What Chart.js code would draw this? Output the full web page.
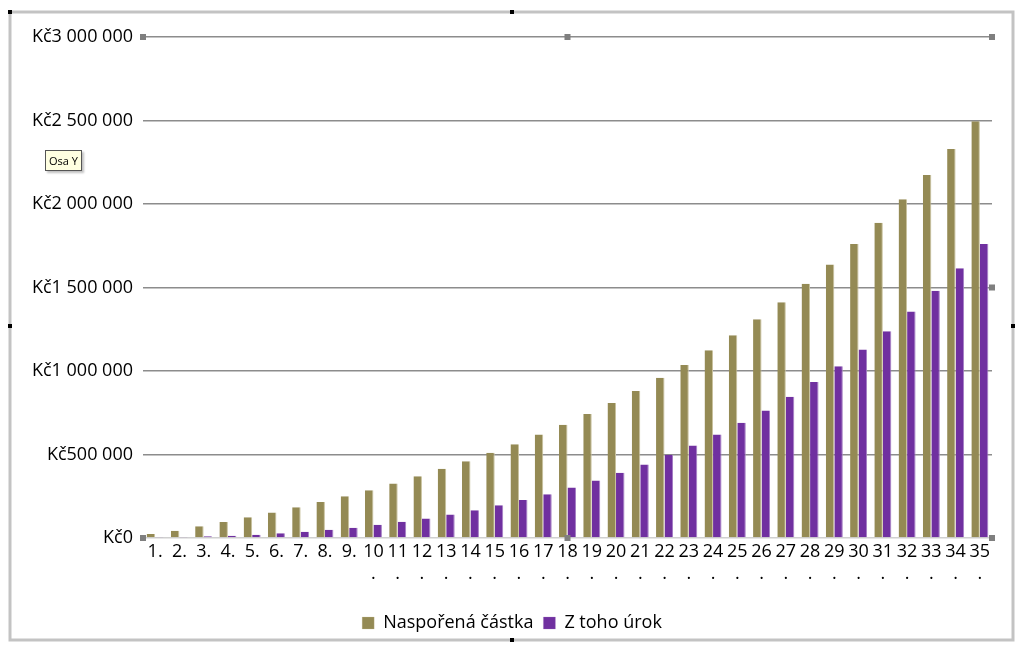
<!DOCTYPE html>
<html lang="cs">
<head>
<meta charset="utf-8">
<title>Spoření</title>
<script src="https://cdn.jsdelivr.net/npm/chart.js@4.4.1/dist/chart.umd.min.js"></script>
<style>
  html, body { margin: 0; padding: 0; background: #ffffff; }
  #wrap { position: relative; width: 1024px; height: 650px; }
  #osa {
    position: absolute; left: 45px; top: 150px;
    padding: 2px 3px; font: 11px 'Open Sans', sans-serif; color: #000;
    background: #ffffe1; border: 1px solid #555;
    box-shadow: 2px 2px 2px rgba(0, 0, 0, 0.25);
  }
</style>
</head>
<body>
<div id="wrap">
  <canvas id="chart"></canvas>
  <div id="osa">Osa Y</div>
</div>
<script>
// Data
const years = [
  '1.', '2.', '3.', '4.', '5.', '6.', '7.', '8.', '9.', '10.',
  '11.', '12.', '13.', '14.', '15.', '16.', '17.', '18.', '19.', '20.',
  '21.', '22.', '23.', '24.', '25.', '26.', '27.', '28.', '29.', '30.',
  '31.', '32.', '33.', '34.', '35.'
];
const saved = [
  24000, 44000, 70000, 96000, 124000, 152000, 184000, 216000, 250000, 286000,
  326000, 370000, 414000, 460000, 510000, 562000, 620000, 678000, 742000, 808000,
  880000, 960000, 1036000, 1124000, 1214000, 1310000, 1412000, 1522000, 1638000, 1760000,
  1888000, 2028000, 2174000, 2330000, 2496000
];
const interest = [
  3000, 6000, 10000, 14000, 20000, 28000, 38000, 50000, 62000, 80000,
  98000, 117000, 140000, 166000, 196000, 228000, 262000, 302000, 344000, 390000,
  440000, 498000, 554000, 620000, 690000, 764000, 846000, 934000, 1028000, 1128000,
  1238000, 1356000, 1480000, 1616000, 1760000
];
const yTicks = [0, 500000, 1000000, 1500000, 2000000, 2500000, 3000000];

const FONT = "'Open Sans', sans-serif";

/**
 * Format Kč value with spaces as thousand separators
 */
function formatKc(value) {
  return 'Kč' + String(value).replace(/\B(?=(\d{3})+(?!\d))/g, ' ');
}

/**
 * Labels wider than one category wrap like in Excel: "10" + "."
 */
function wrapLabel(label) {
  return label.length > 2 ? [label.slice(0, -1), '.'] : label;
}

/**
 * Frame and selection handles around the chart
 */
const handlesPlugin = {
  id: 'handles',
  beforeDraw(chart) {
    const ctx = chart.ctx;
    ctx.save();
    ctx.strokeStyle = '#c3c3c3';
    ctx.lineWidth = 3;
    ctx.strokeRect(10, 12, 1003, 628);
    ctx.restore();
  },
  afterDraw(chart) {
    const ctx = chart.ctx;
    const a = chart.chartArea;
    const midX = (a.left + a.right) / 2;
    const midY = (a.top + a.bottom) / 2;
    ctx.save();
    ctx.fillStyle = '#7f7f7f';
    [[a.left, a.top], [midX, a.top], [a.right, a.top], [a.right, midY],
     [a.right, a.bottom], [midX, a.bottom], [a.left, a.bottom]].forEach(([x, y]) => {
      ctx.fillRect(x - 3, y - 3, 6, 6);
    });
    ctx.fillStyle = '#000000';
    [[10, 12], [512, 12], [1013, 326], [512, 640], [10, 326]].forEach(([x, y]) => {
      ctx.fillRect(x - 2, y - 2, 4, 4);
    });
    ctx.restore();
  },
};

const ctx = document.getElementById('chart').getContext('2d');

new Chart(ctx, {
  type: 'bar',
  data: {
    labels: years.map(wrapLabel),
    datasets: [
      {
        label: 'Naspořená částka',
        data: saved,
        backgroundColor: '#948a54',
        borderColor: '#c9c29e',
        borderWidth: { right: 1 },
        borderSkipped: 'bottom',
        barPercentage: 1.0,
        categoryPercentage: 0.7,
      },
      {
        label: 'Z toho úrok',
        data: interest,
        backgroundColor: '#7030a0',
        borderColor: '#a57fc4',
        borderWidth: { right: 1 },
        borderSkipped: 'bottom',
        barPercentage: 1.0,
        categoryPercentage: 0.7,
      },
    ],
  },
  options: {
    responsive: true,
    maintainAspectRatio: false,
    animation: false,
    layout: {
      padding: { left: 0, right: 0, top: 37, bottom: 8 },
    },
    plugins: {
      legend: {
        position: 'bottom',
        labels: {
          boxWidth: 12,
          boxHeight: 12,
          padding: 10,
          color: '#000000',
          font: { size: 18, family: FONT },
        },
      },
      tooltip: { enabled: false },
    },
    scales: {
      x: {
        grid: { display: false, drawTicks: false },
        border: { display: false },
        ticks: {
          color: '#000000',
          font: { size: 18, family: FONT, lineHeight: 1.2 },
          autoSkip: false,
          maxRotation: 0,
          padding: 3,
        },
        afterFit: (scale) => { scale.height = 66; },
      },
      y: {
        min: 0,
        max: 3000000,
        afterBuildTicks: (scale) => {
          scale.ticks = yTicks.map((v) => ({ value: v }));
        },
        grid: {
          drawTicks: false,
          lineWidth: 1.5,
          color: (c) => (c.tick && c.tick.value === 0 ? '#d0d0d0' : '#8c8c8c'),
        },
        border: { display: false },
        ticks: {
          color: '#000000',
          font: { size: 18, family: FONT },
          padding: 10,
          callback: (value) => formatKc(value),
        },
        afterFit: (scale) => { scale.width = 143; },
      },
      // empty right-hand space so the legend stays centred on the page
      spacer: {
        type: 'linear',
        position: 'right',
        grid: { display: false, drawTicks: false },
        border: { display: false },
        ticks: { display: false },
        afterFit: (scale) => { scale.width = 32; },
      },
    },
  },
  plugins: [handlesPlugin],
});
</script>
</body>
</html>
